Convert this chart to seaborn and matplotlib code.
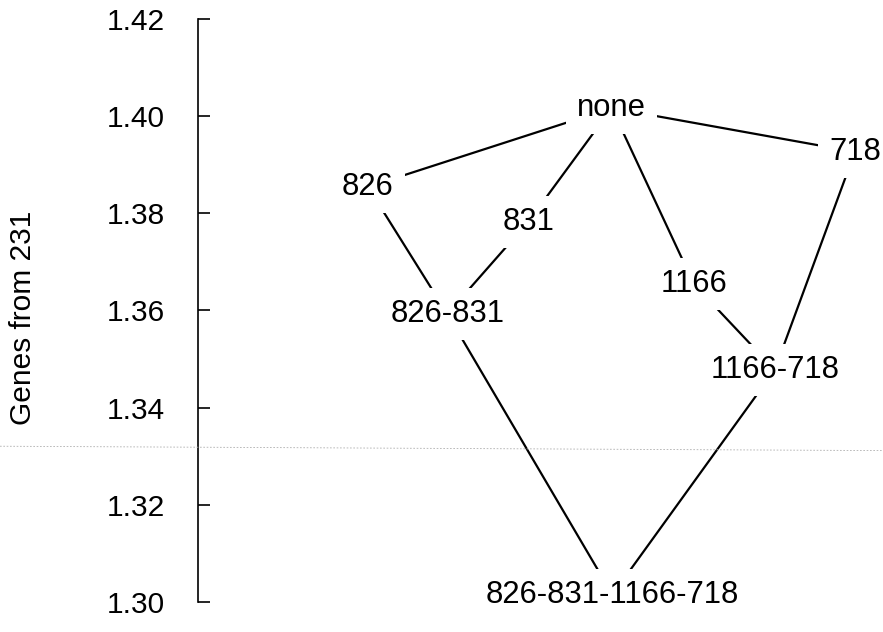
import pandas as pd
import matplotlib
matplotlib.use('Agg')
import matplotlib.pyplot as plt
import matplotlib.transforms as mtransforms
from matplotlib.lines import Line2D
import seaborn as sns

# node labels and where they sit (x is just layout position, y is the value)
node_names = ['none', '826', '831', '718', '1166', '826-831', '1166-718', '826-831-1166-718']
node_x = [6.04, 2.48, 4.82, 9.59, 7.24, 3.64, 8.42, 6.05]
node_y = [1.4016, 1.3854, 1.3782, 1.3926, 1.3654, 1.3593, 1.3478, 1.3016]

# links between nodes
edge_from = ['none', 'none', 'none', 'none', '826', '831', '1166', '718', '826-831', '1166-718']
edge_to = ['826', '831', '1166', '718', '826-831', '826-831', '1166-718', '1166-718',
           '826-831-1166-718', '826-831-1166-718']

y_ticks = [1.30, 1.32, 1.34, 1.36, 1.38, 1.40, 1.42]

nodes = pd.DataFrame({'name': node_names, 'x': node_x, 'y': node_y}).set_index('name')
rows = []
for i, (a, b) in enumerate(zip(edge_from, edge_to)):
    rows.append({'edge': i, 'x': nodes.loc[a, 'x'], 'y': nodes.loc[a, 'y']})
    rows.append({'edge': i, 'x': nodes.loc[b, 'x'], 'y': nodes.loc[b, 'y']})
edges = pd.DataFrame(rows)

sns.set_theme(style='white')
plt.rcParams['font.family'] = ['Liberation Sans', 'DejaVu Sans']

fig = plt.figure(figsize=(8.83, 6.32), dpi=100)
ax = fig.add_axes([0.2243, 0.0468, 0.7757, 0.9239])

sns.lineplot(data=edges, x='x', y='y', units='edge', estimator=None, sort=False,
             color='black', linewidth=1.6, legend=False, ax=ax, zorder=1)

for name, row in nodes.iterrows():
    ax.text(row['x'], row['y'], name, ha='center', va='center', fontsize=22.3,
            color='black', zorder=3,
            bbox=dict(boxstyle='square,pad=0.35', facecolor='white', edgecolor='none'))

ax.set_xlim(0, 10)
ax.set_ylim(1.30, 1.42)
ax.set_yticks(y_ticks)
ax.set_yticklabels([f'{t:.2f}' for t in y_ticks])
ax.set_xticks([])
ax.set_xlabel('')
ax.set_ylabel('Genes from 231', fontsize=21.5, color='black')
ax.yaxis.label.set_va('center')
ax.yaxis.set_label_coords(-0.256, 0.488)
ax.tick_params(axis='y', direction='in', length=8.5, width=1.2, pad=23.8,
               labelsize=21.5, colors='black', left=True)
sns.despine(ax=ax, bottom=True, right=True, top=True)
ax.spines['left'].set_color('black')
ax.spines['left'].set_linewidth(1.2)

# faint dotted scan line across the page
trans = mtransforms.blended_transform_factory(fig.transFigure, ax.transData)
fig.add_artist(Line2D([0, 1], [1.3321, 1.3312], transform=trans, color='#b0b0b0',
                      linestyle=(0, (2, 2)), linewidth=0.6))

fig.savefig('out.png', dpi=100)
